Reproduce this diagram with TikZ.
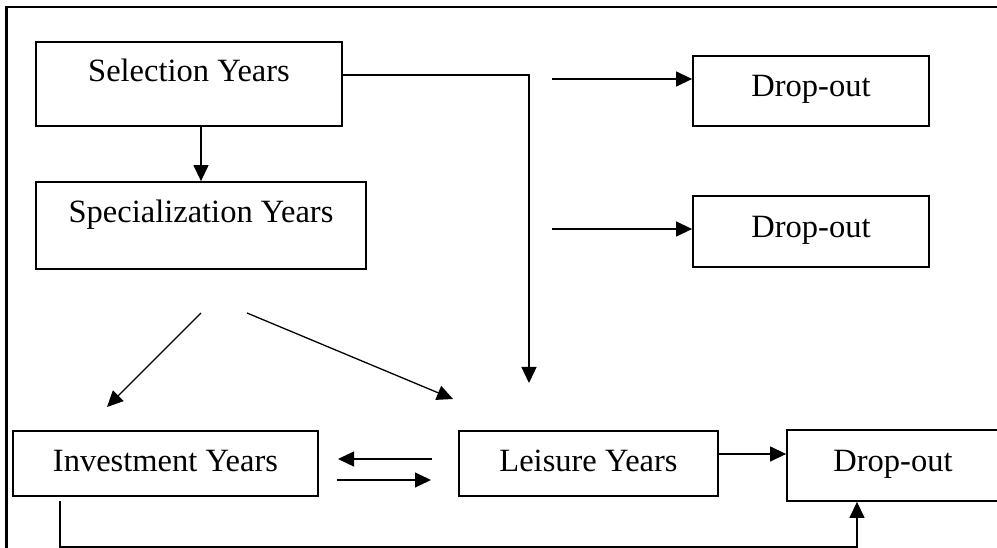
\documentclass[tikz,border=0pt]{standalone}
\usepackage{fontspec}
\setmainfont{Liberation Serif}
\usetikzlibrary{arrows.meta}
\begin{document}
\begin{tikzpicture}[x=1pt,y=-1pt,
  box/.style={draw, line width=1.8pt, rectangle, inner sep=0pt,
    font=\fontsize{32.5}{38}\selectfont, text height=22pt},
  arr/.style={line width=1.3pt, -{Triangle[length=16pt,width=15pt]}},
  ln/.style={line width=1.3pt}]
\useasboundingbox (0,0) rectangle (997,548);
% frame
\draw[line width=2.3pt] (6.5,560) -- (6.5,7) -- (1010,7);
% boxes
\node[box, minimum width=306pt, minimum height=84pt, text depth=26.6pt] (sel) at (189,84) {Selection Years};
\node[box, minimum width=330pt, minimum height=87pt, text depth=27.6pt] (spec) at (201,225.5) {Specialization Years};
\node[box, minimum width=236pt, minimum height=70pt, text depth=10pt] (d1) at (811,91) {Drop-out};
\node[box, minimum width=236pt, minimum height=71pt, text depth=10pt] (d2) at (811,231.5) {Drop-out};
\node[box, minimum width=305pt, minimum height=65pt, text depth=5.6pt] (inv) at (165.5,463.5) {Investment Years};
\node[box, minimum width=259pt, minimum height=65pt, text depth=5.6pt] (lei) at (588.5,463.5) {Leisure Years};
\node[box, minimum width=212pt, minimum height=71pt, text depth=9.6pt] (d3) at (893,465.5) {Drop-out};
% coordinates
\coordinate (lt) at (529,383);
\coordinate (a1) at (552,79);
\coordinate (a2) at (552,229);
\coordinate (g1s) at (201,313);
\coordinate (g1e) at (107,407);
\coordinate (g2s) at (247,313);
\coordinate (g2e) at (453,399);
\coordinate (l1s) at (432,459);
\coordinate (l1e) at (338,459);
\coordinate (r1s) at (337,480);
\coordinate (r1e) at (431,480);
\coordinate (b0) at (60,501);
\coordinate (b1) at (60,547);
\coordinate (b2) at (857,547);
% connectors
\draw[arr] (sel.south -| spec.north) -- (spec.north);
\draw[arr] ([yshift=9pt]sel.east) -| (lt);
\draw[arr] (a1) -- (a1 -| d1.west);
\draw[arr] (a2) -- (a2 -| d2.west);
\draw[arr] (g1s) -- (g1e);
\draw[arr] (g2s) -- (g2e);
\draw[arr] (l1s) -- (l1e);
\draw[arr] (r1s) -- (r1e);
\draw[arr] ([yshift=9.5pt]lei.east) -- ([yshift=9.5pt]lei.east -| d3.west);
\draw[arr] (b0) -- (b1) -- (b2) -- (b2 |- d3.south);
\end{tikzpicture}
\end{document}
